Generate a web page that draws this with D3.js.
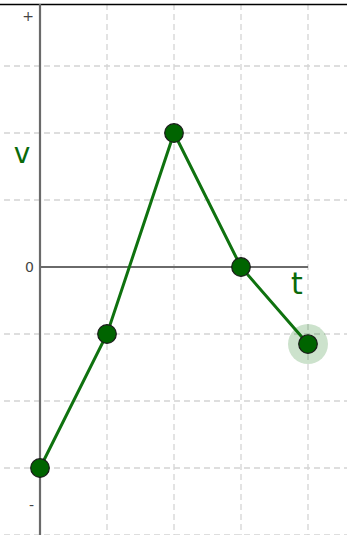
<!DOCTYPE html>
<html>
<head>
<meta charset="utf-8">
<script src="https://cdn.jsdelivr.net/npm/d3@7"></script>
<style>
    body { margin: 0; background: #fff; }
    svg { display: block; font-family: "DejaVu Sans", sans-serif; }
    .grid { stroke: #d4d4d4; stroke-width: 1.3; stroke-dasharray: 6,4; }
    .axis { stroke: #6a6a6a; stroke-width: 2.2; }
</style>
</head>
<body>
<svg id="chart" width="347" height="535"></svg>
<script>
// chart values
const times = [0, 1, 2, 3, 4];
const speeds = [-3, -1, 2, 0, -1.15];
const gridT = [1, 2, 3, 4];
const gridV = [-4, -3, -2, -1, 1, 2, 3, 4];
const tickLabels = [{v: 3.75, text: "+"}, {v: 0, text: "0"}, {v: -3.55, text: "-"}];

const width = 347, height = 535;
const svg = d3.select("#chart");

let x = d3.scaleLinear().domain([0, 4]).range([40, 308]);
let y = d3.scaleLinear().domain([-4, 4]).range([535, -1]);

// dashed grid
svg.append("g").selectAll("line")
    .data(gridV)
    .enter()
    .append("line")
    .attr("class", "grid")
    .attr("x1", 4).attr("x2", width)
    .attr("y1", d => y(d)).attr("y2", d => y(d));

svg.append("g").selectAll("line")
    .data(gridT)
    .enter()
    .append("line")
    .attr("class", "grid")
    .attr("x1", d => x(d)).attr("x2", d => x(d))
    .attr("y1", 4).attr("y2", height);

// top frame line
svg.append("line")
    .attr("x1", 0).attr("x2", width)
    .attr("y1", 4.5).attr("y2", 4.5)
    .attr("stroke", "#000").attr("stroke-width", 1.5);

// axes
svg.append("line").attr("class", "axis")
    .attr("x1", x(0)).attr("x2", x(0))
    .attr("y1", 4).attr("y2", height);
svg.append("line").attr("class", "axis")
    .attr("x1", x(0)).attr("x2", x(4))
    .attr("y1", y(0)).attr("y2", y(0));

svg.append("g").selectAll("text")
    .data(tickLabels)
    .enter()
    .append("text")
    .attr("x", 34)
    .attr("y", d => y(d.v))
    .attr("dy", "0.35em")
    .attr("text-anchor", "end")
    .attr("font-size", 14)
    .attr("fill", "#444")
    .text(d => d.text);

// axis names
svg.append("text")
    .attr("x", 22).attr("y", 163)
    .attr("text-anchor", "middle")
    .attr("font-size", 28)
    .attr("fill", "#0a6a0a")
    .text("v");
svg.append("text")
    .attr("x", 297).attr("y", 294)
    .attr("text-anchor", "middle")
    .attr("font-size", 30)
    .attr("fill", "#0a6a0a")
    .text("t");

// v(t) polyline
let pts = times.map((t, i) => [t, speeds[i]]);
let line = d3.line().x(d => x(d[0])).y(d => y(d[1]));

svg.append("path")
    .datum(pts)
    .attr("d", line)
    .attr("fill", "none")
    .attr("stroke", "#0f720f")
    .attr("stroke-width", 3);

// highlight halo on the last point
let last = pts[pts.length - 1];
svg.append("circle")
    .attr("cx", x(last[0])).attr("cy", y(last[1]))
    .attr("r", 20)
    .attr("fill", "rgba(0,110,0,0.2)");

svg.append("g").selectAll("circle")
    .data(pts)
    .enter()
    .append("circle")
    .attr("cx", d => x(d[0]))
    .attr("cy", d => y(d[1]))
    .attr("r", 9.3)
    .attr("fill", "#006400")
    .attr("stroke", "#1a1a1a")
    .attr("stroke-width", 1.2);
</script>
</body>
</html>
